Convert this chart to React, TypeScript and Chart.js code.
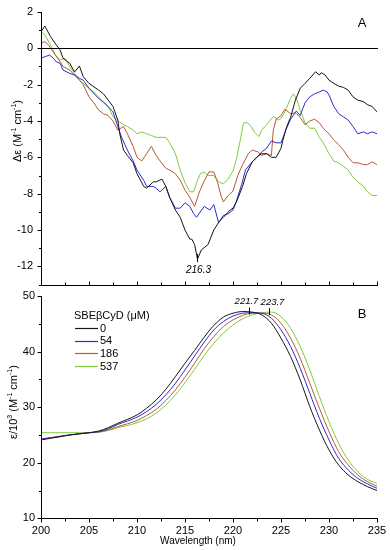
import React, { useEffect, useRef } from 'react';
import { Chart, registerables } from 'chart.js';

Chart.register(...registerables);

const FONT = '"Liberation Sans", Arial, sans-serif';

// ---------- Series meta ----------
const seriesLabels = ['0', '54', '186', '537'];
const seriesColors = ['#161616', '#2c2cd2', '#b65a36', '#7fcb3e'];

// ---------- Panel A (CD spectra) ----------
const wlA0 = [200.0, 200.4, 201.0, 201.6, 202.0, 202.3, 203.0, 203.5, 204.0, 204.4, 205.0, 206.0, 206.5, 207.0, 207.5, 208.0, 208.2, 208.6, 209.0, 209.6, 210.0, 210.7, 211.0, 211.7, 212.0, 212.6, 213.0, 213.4, 214.0, 214.5, 215.0, 215.5, 215.7, 216.0, 216.3, 216.7, 217.4, 218.0, 218.6, 219.0, 219.7, 220.0, 220.4, 221.0, 221.4, 222.0, 222.5, 223.0, 223.5, 224.0, 224.5, 225.0, 225.2, 225.6, 226.0, 226.5, 227.0, 227.5, 228.0, 228.6, 229.0, 229.2, 229.6, 230.0, 230.5, 231.0, 231.5, 232.0, 232.5, 233.0, 233.6, 234.0, 234.5, 235.0];
const cdA0 = [0.92, 1.23, 0.64, 0.18, -0.1, -0.55, -0.83, -1.3, -0.97, -1.56, -1.93, -2.3, -2.5, -2.85, -3.2, -3.95, -4.7, -5.6, -5.9, -6.3, -6.9, -7.6, -7.7, -7.35, -7.35, -7.2, -7.6, -8.2, -8.9, -9.3, -10.0, -10.5, -10.5, -10.8, -11.6, -11.1, -10.8, -10.0, -9.5, -9.3, -8.9, -8.8, -8.4, -7.6, -6.9, -6.25, -5.97, -5.8, -5.8, -6.0, -6.0, -5.5, -5.05, -4.3, -3.8, -2.85, -2.2, -1.93, -1.65, -1.29, -1.47, -1.34, -1.47, -1.75, -1.93, -2.08, -2.15, -2.3, -2.67, -2.85, -2.94, -3.1, -3.2, -3.5];

const wlA54 = [200.0, 200.4, 200.9, 201.3, 201.6, 202.0, 202.3, 203.0, 203.5, 204.0, 204.4, 205.0, 206.0, 206.5, 207.0, 207.5, 208.0, 208.4, 209.0, 209.6, 210.0, 210.7, 211.0, 211.7, 212.0, 212.4, 213.0, 213.4, 214.0, 214.5, 215.0, 215.5, 215.9, 216.2, 217.0, 217.6, 218.0, 218.5, 219.0, 219.5, 220.0, 220.3, 220.9, 221.3, 222.0, 222.6, 223.0, 223.5, 224.0, 224.5, 225.0, 225.5, 226.0, 226.6, 227.0, 227.5, 228.0, 228.5, 229.0, 229.4, 229.8, 230.0, 230.5, 231.0, 231.5, 232.0, 232.5, 233.0, 233.6, 234.0, 234.5, 235.0];
const cdA54 = [-0.55, -0.46, -0.37, -0.55, -0.74, -0.83, -1.2, -1.38, -1.47, -1.65, -1.75, -2.2, -2.76, -2.95, -3.2, -3.5, -4.3, -4.9, -5.6, -6.2, -6.7, -7.26, -7.6, -7.6, -7.7, -7.9, -7.6, -8.2, -8.8, -8.8, -8.5, -8.7, -9.1, -9.3, -8.7, -8.9, -8.6, -9.6, -9.2, -9.1, -8.9, -8.5, -7.5, -6.7, -6.25, -5.95, -5.7, -5.5, -5.1, -5.2, -5.2, -4.5, -3.9, -3.45, -3.7, -3.0, -2.67, -2.5, -2.4, -2.3, -2.4, -2.57, -3.2, -3.6, -3.77, -3.95, -4.3, -4.7, -4.6, -4.7, -4.6, -4.7];

const wlA186 = [200.0, 200.4, 200.8, 201.0, 201.5, 202.0, 202.3, 203.0, 203.5, 204.0, 204.4, 205.0, 205.5, 206.0, 206.5, 207.0, 207.5, 208.0, 208.6, 209.0, 209.6, 210.0, 210.5, 211.0, 211.5, 212.0, 212.4, 213.0, 213.4, 214.0, 214.5, 215.0, 215.5, 216.0, 216.5, 217.0, 217.5, 218.0, 218.4, 218.8, 219.0, 219.5, 220.0, 220.5, 221.0, 221.6, 222.0, 222.6, 223.0, 223.5, 224.0, 224.2, 224.5, 225.0, 225.4, 226.0, 226.5, 227.0, 227.5, 228.0, 228.5, 229.0, 229.4, 230.0, 230.5, 231.0, 231.5, 232.0, 232.5, 233.0, 233.6, 234.0, 234.5, 235.0];
const cdA186 = [0.28, 0.37, 0.18, 0.0, -0.37, -0.74, -1.0, -1.2, -1.47, -1.75, -2.0, -2.67, -3.0, -3.4, -3.6, -3.7, -4.0, -4.5, -4.3, -4.7, -5.4, -6.0, -6.2, -5.8, -5.4, -5.9, -6.2, -6.6, -6.7, -6.9, -7.26, -7.8, -8.2, -8.7, -7.9, -7.3, -6.8, -6.8, -7.4, -8.2, -8.45, -8.1, -7.85, -7.0, -6.4, -5.8, -5.6, -5.7, -5.9, -5.8, -5.9, -4.5, -3.9, -3.7, -3.35, -3.6, -3.55, -3.8, -4.2, -4.0, -3.9, -4.1, -4.4, -4.7, -5.05, -5.3, -5.6, -6.0, -6.3, -6.3, -6.4, -6.4, -6.25, -6.4];

const wlA537 = [200.0, 200.4, 201.0, 201.5, 202.0, 202.5, 203.0, 203.5, 204.0, 204.4, 205.0, 205.5, 206.0, 206.5, 207.0, 207.5, 208.0, 208.6, 209.0, 209.6, 210.0, 210.5, 211.0, 211.5, 212.0, 212.6, 213.0, 213.4, 214.0, 214.5, 215.0, 215.5, 215.9, 216.2, 216.6, 217.0, 217.4, 218.0, 218.5, 219.0, 219.5, 220.0, 220.4, 220.7, 221.1, 221.5, 221.9, 222.2, 222.7, 223.0, 223.5, 224.2, 224.7, 225.0, 225.4, 226.0, 226.3, 226.7, 227.0, 227.5, 228.0, 228.5, 229.0, 229.4, 230.0, 230.5, 231.0, 231.5, 232.0, 232.5, 233.0, 233.6, 234.0, 234.5, 235.0];
const cdA537 = [0.92, 0.74, 0.18, -0.37, -0.64, -0.55, -1.0, -1.38, -1.75, -1.93, -2.2, -2.4, -2.67, -3.0, -3.2, -3.77, -4.0, -4.2, -4.3, -4.5, -4.7, -4.6, -4.7, -4.8, -4.9, -4.9, -4.9, -5.2, -5.8, -6.7, -7.4, -7.9, -7.9, -7.4, -6.9, -6.8, -7.0, -7.0, -7.35, -7.45, -7.2, -6.75, -6.0, -5.2, -4.1, -4.1, -4.3, -4.6, -4.85, -4.5, -4.2, -3.75, -3.95, -3.86, -3.5, -2.75, -2.5, -2.9, -3.4, -4.1, -4.4, -4.4, -4.9, -5.2, -5.8, -6.2, -6.3, -6.5, -6.7, -7.1, -7.35, -7.6, -7.9, -8.1, -8.1];

const wlAList = [wlA0, wlA54, wlA186, wlA537];
const cdAList = [cdA0, cdA54, cdA186, cdA537];

const yTicksA = [2, 0, -2, -4, -6, -8, -10, -12];
const minMarkA = [216.3, -11.6];

// ---------- Panel B (absorption) ----------
const wlB = [200, 201, 202, 203, 204, 205, 206, 207, 208, 209, 210, 211, 212, 213, 214, 215, 216, 217, 218, 219, 220, 221, 222, 223, 224, 225, 226, 227, 228, 229, 230, 231, 232, 233, 234, 235];
const epsB0 = [24.1, 24.4, 24.7, 25.0, 25.2, 25.4, 25.7, 26.3, 27.1, 27.8, 28.6, 29.8, 31.3, 33.2, 35.5, 37.9, 40.2, 42.6, 44.7, 46.2, 46.9, 47.2, 47.1, 46.6, 45.1, 42.4, 39.1, 34.9, 30.1, 25.9, 22.3, 19.6, 17.8, 16.6, 15.7, 15.0];
const epsB54 = [24.2, 24.5, 24.7, 25.0, 25.2, 25.4, 25.6, 26.1, 26.9, 27.5, 28.2, 29.2, 30.5, 32.2, 34.3, 36.7, 39.2, 41.7, 43.9, 45.4, 46.4, 46.9, 47.0, 46.9, 46.0, 43.9, 40.9, 37.0, 32.5, 28.0, 24.1, 20.8, 18.7, 17.2, 16.2, 15.4];
const epsB186 = [24.3, 24.5, 24.8, 25.0, 25.2, 25.4, 25.5, 25.9, 26.5, 27.0, 27.6, 28.5, 29.6, 31.2, 33.1, 35.4, 37.9, 40.5, 42.7, 44.5, 45.7, 46.5, 46.9, 46.9, 46.6, 45.1, 42.4, 38.8, 34.3, 29.8, 25.6, 22.0, 19.6, 17.8, 16.6, 15.8];
const epsB537 = [25.4, 25.4, 25.4, 25.4, 25.4, 25.4, 25.5, 25.8, 26.3, 26.7, 27.2, 27.9, 28.9, 30.4, 32.2, 34.4, 36.8, 39.3, 41.5, 43.3, 44.8, 45.9, 46.6, 47.0, 47.1, 46.3, 44.2, 40.9, 36.7, 31.9, 27.4, 23.5, 20.5, 18.4, 17.0, 16.3];
const epsBList = [epsB0, epsB54, epsB186, epsB537];

const xTicks = [200, 205, 210, 215, 220, 225, 230, 235];
const yTicksB = [10, 20, 30, 40, 50];
const peakWlB = [221.7, 223.7];
const peakValB = [47.2, 47.1];
const legendTitle = 'SBE\u03B2CyD (\u03BCM)';

type Part = { t: string; sup?: boolean };

function drawRich(ctx: CanvasRenderingContext2D, parts: Part[], x: number, y: number, size: number, rotate: boolean) {
  ctx.save();
  ctx.translate(x, y);
  if (rotate) ctx.rotate(-Math.PI / 2);
  const fontFor = (sup?: boolean) => `${sup ? Math.round(size * 0.62) : size}px ${FONT}`;
  let total = 0;
  for (const p of parts) {
    ctx.font = fontFor(p.sup);
    total += ctx.measureText(p.t).width;
  }
  let cx = -total / 2;
  ctx.textAlign = 'left';
  ctx.textBaseline = 'alphabetic';
  ctx.fillStyle = '#000';
  for (const p of parts) {
    ctx.font = fontFor(p.sup);
    ctx.fillText(p.t, cx, size * 0.36 + (p.sup ? -size * 0.42 : 0));
    cx += ctx.measureText(p.t).width;
  }
  ctx.restore();
}

function frameTicks(chart: any, cfg: { xDir: number; yMinor: number; yMajor: number }) {
  const { ctx, chartArea: a, scales } = chart;
  const x = scales.x;
  const y = scales.y;
  const L = Math.round(a.left) + 0.5;
  const B = Math.round(a.bottom) + 0.5;
  ctx.save();
  ctx.strokeStyle = '#000';
  ctx.lineWidth = 1;
  ctx.beginPath();
  ctx.moveTo(L, Math.round(a.top));
  ctx.lineTo(L, B);
  ctx.moveTo(L, B);
  ctx.lineTo(Math.round(a.right) + 1, B);
  for (let v = x.min; v <= x.max + 1e-6; v += 2.5) {
    const px = Math.round(x.getPixelForValue(v)) + 0.5;
    const major = Math.abs(v / 5 - Math.round(v / 5)) < 1e-6;
    const len = major ? 4 : 3;
    ctx.moveTo(px, B);
    ctx.lineTo(px, B + cfg.xDir * len);
  }
  for (let v = y.min; v <= y.max + 1e-6; v += cfg.yMinor) {
    const py = Math.round(y.getPixelForValue(v)) + 0.5;
    const major = Math.abs(v / cfg.yMajor - Math.round(v / cfg.yMajor)) < 1e-6;
    const len = major ? 4 : 2.5;
    ctx.moveTo(L, py);
    ctx.lineTo(L - len, py);
  }
  ctx.stroke();
  ctx.restore();
}

const pluginA = {
  id: 'panelA',
  afterDatasetsDraw(chart: any) {
    const { ctx, chartArea: a, scales } = chart;
    const x = scales.x;
    const y = scales.y;
    frameTicks(chart, { xDir: -1, yMinor: 1, yMajor: 2 });
    ctx.save();
    const zy = Math.round(y.getPixelForValue(0)) + 0.5;
    ctx.strokeStyle = '#000';
    ctx.lineWidth = 1;
    ctx.beginPath();
    ctx.moveTo(a.left, zy);
    ctx.lineTo(a.right + 1, zy);
    const mx = Math.round(x.getPixelForValue(minMarkA[0])) + 0.5;
    const my = y.getPixelForValue(minMarkA[1]);
    ctx.moveTo(mx, my - 5);
    ctx.lineTo(mx, my + 3);
    ctx.stroke();
    ctx.fillStyle = '#000';
    ctx.font = `italic 10px ${FONT}`;
    ctx.textAlign = 'center';
    ctx.textBaseline = 'middle';
    ctx.fillText(String(minMarkA[0]), mx + 1, my + 11);
    ctx.font = `13px ${FONT}`;
    ctx.fillText('A', 362, 23);
    ctx.restore();
    drawRich(ctx, [{ t: '\u0394\u03B5 (M' }, { t: '-1', sup: true }, { t: ' cm' }, { t: '-1', sup: true }, { t: ')' }], 17, 131, 11, true);
  },
};

const B_TOP = 288;

const pluginB = {
  id: 'panelB',
  afterDatasetsDraw(chart: any) {
    const { ctx, scales } = chart;
    const x = scales.x;
    const y = scales.y;
    frameTicks(chart, { xDir: 1, yMinor: 5, yMajor: 10 });
    ctx.save();
    ctx.strokeStyle = '#000';
    ctx.lineWidth = 1;
    ctx.fillStyle = '#000';
    ctx.font = `italic 9.5px ${FONT}`;
    ctx.textAlign = 'center';
    ctx.textBaseline = 'middle';
    peakWlB.forEach((w, i) => {
      const px = Math.round(x.getPixelForValue(w)) + 0.5;
      const py = y.getPixelForValue(peakValB[i]);
      ctx.beginPath();
      ctx.moveTo(px, py - 4);
      ctx.lineTo(px, py + 3);
      ctx.stroke();
      ctx.fillText(w.toFixed(1), px + (i === 0 ? -3 : 3), py - 10);
    });
    ctx.textAlign = 'left';
    ctx.font = `11px ${FONT}`;
    ctx.fillText(legendTitle, 74, 316 - B_TOP);
    chart.data.datasets.forEach((ds: any, i: number) => {
      const ly = 328 - B_TOP + i * 12.7;
      ctx.strokeStyle = ds.borderColor;
      ctx.lineWidth = 1.2;
      ctx.beginPath();
      ctx.moveTo(75, Math.round(ly) + 0.5);
      ctx.lineTo(98, Math.round(ly) + 0.5);
      ctx.stroke();
      ctx.fillStyle = '#000';
      ctx.fillText(ds.label, 100, ly + 0.5);
    });
    ctx.font = `13px ${FONT}`;
    ctx.textAlign = 'center';
    ctx.fillText('B', 362, 314 - B_TOP);
    ctx.font = `10px ${FONT}`;
    ctx.fillText('Wavelength (nm)', 198, 541 - B_TOP);
    ctx.restore();
    drawRich(ctx, [{ t: '\u03B5/10' }, { t: '3', sup: true }, { t: ' (M' }, { t: '-1', sup: true }, { t: ' cm' }, { t: '-1', sup: true }, { t: ')' }], 13, 402 - B_TOP, 11, true);
  },
};

const tickFont = { family: FONT, size: 11 };

const zeroPad = (s: any) => {
  s.paddingTop = 0;
  s.paddingBottom = 0;
  s.paddingLeft = 0;
  s.paddingRight = 0;
};

export default function App() {
  const refA = useRef<HTMLCanvasElement | null>(null);
  const refB = useRef<HTMLCanvasElement | null>(null);

  useEffect(() => {
    document.body.style.margin = '0';
    const chartA = new Chart(refA.current as HTMLCanvasElement, {
      type: 'line',
      data: {
        datasets: seriesLabels.map((lab, i) => ({
          label: lab,
          data: wlAList[i].map((w, j) => ({ x: w, y: cdAList[i][j] })),
          borderColor: seriesColors[i],
          borderWidth: 1,
          pointRadius: 0,
          tension: 0,
          fill: false,
        })),
      },
      options: {
        animation: false,
        responsive: false,
        devicePixelRatio: 1,
        layout: { padding: { top: 12, right: 13, bottom: 288 - 284.5, left: 0 } },
        plugins: { legend: { display: false }, tooltip: { enabled: false } },
        scales: {
          x: {
            type: 'linear',
            min: 200,
            max: 235,
            ticks: { display: false },
            grid: { display: false, drawTicks: false },
            border: { display: false },
            afterFit: (s: any) => { s.height = 0; zeroPad(s); },
          },
          y: {
            type: 'linear',
            min: -13,
            max: 2,
            afterBuildTicks: (s: any) => { s.ticks = yTicksA.map((v) => ({ value: v })); },
            ticks: { padding: 8, color: '#000', font: tickFont, autoSkip: false },
            grid: { display: false, drawTicks: false },
            border: { display: false },
            afterFit: (s: any) => { s.width = 41; zeroPad(s); },
          },
        },
      } as any,
      plugins: [pluginA],
    });

    const chartB = new Chart(refB.current as HTMLCanvasElement, {
      type: 'line',
      data: {
        datasets: seriesLabels.map((lab, i) => ({
          label: lab,
          data: wlB.map((w, j) => ({ x: w, y: epsBList[i][j] })),
          borderColor: seriesColors[i],
          borderWidth: 1,
          pointRadius: 0,
          cubicInterpolationMode: 'monotone',
          fill: false,
        })),
      },
      options: {
        animation: false,
        responsive: false,
        devicePixelRatio: 1,
        layout: { padding: { top: 296 - B_TOP, right: 13, bottom: 0, left: 0 } },
        plugins: { legend: { display: false }, tooltip: { enabled: false } },
        scales: {
          x: {
            type: 'linear',
            min: 200,
            max: 235,
            afterBuildTicks: (s: any) => { s.ticks = xTicks.map((v) => ({ value: v })); },
            ticks: { padding: 6, color: '#000', font: tickFont, autoSkip: false, maxRotation: 0 },
            grid: { display: false, drawTicks: false },
            border: { display: false },
            afterFit: (s: any) => { s.height = 550 - 518.3; zeroPad(s); },
          },
          y: {
            type: 'linear',
            min: 10,
            max: 50,
            afterBuildTicks: (s: any) => { s.ticks = yTicksB.map((v) => ({ value: v })); },
            ticks: { padding: 6, color: '#000', font: tickFont, autoSkip: false },
            grid: { display: false, drawTicks: false },
            border: { display: false },
            afterFit: (s: any) => { s.width = 41; zeroPad(s); },
          },
        },
      } as any,
      plugins: [pluginB],
    });

    return () => {
      chartA.destroy();
      chartB.destroy();
    };
  }, []);

  return (
    <div style={{ position: 'absolute', left: 0, top: 0, width: 390, height: 550, background: '#fff' }}>
      <canvas ref={refA} width={390} height={B_TOP} style={{ position: 'absolute', left: 0, top: 0, display: 'block' }} />
      <canvas ref={refB} width={390} height={550 - B_TOP} style={{ position: 'absolute', left: 0, top: B_TOP, display: 'block' }} />
    </div>
  );
}
